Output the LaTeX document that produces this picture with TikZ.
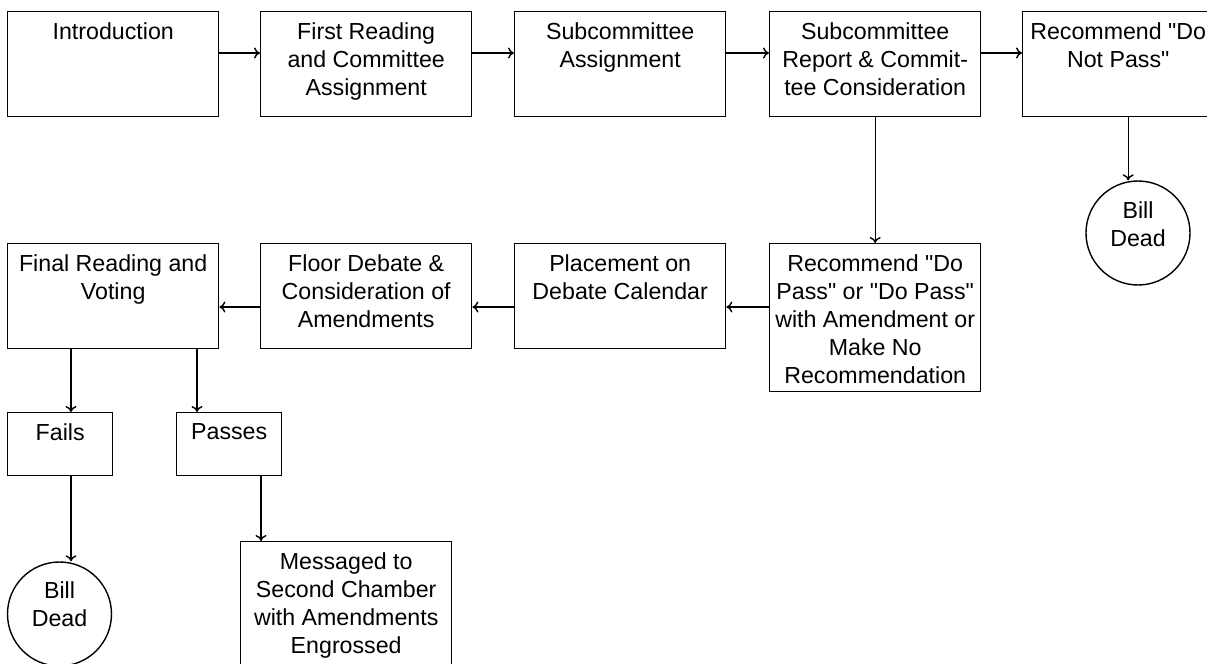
\documentclass[tikz,border=0pt]{standalone}
\usepackage{fontspec}
\setmainfont{Liberation Sans}[Ligatures=TeXOff]
\usetikzlibrary{arrows.meta}

\begin{document}
\begin{tikzpicture}
            [
                x = 0.5pt, y = -0.5pt,
                every node/.style = {font=\fontsize{11.6}{14}\selectfont},
                every label/.style = {anchor=north, align=center,
                inner xsep=0pt, inner ysep=5.5pt},
                stage/.style = {shape=rectangle, draw, line width=0.7pt,
                anchor=north west, inner sep=0pt,
                minimum width=105.5pt, minimum height=52.5pt},
                tall/.style = {stage, minimum height=74pt},
                small/.style = {stage, minimum width=52.5pt, minimum height=31.5pt},
                dead/.style = {shape=circle, draw, line width=0.7pt,
                inner sep=0pt, minimum size=52pt},
                arr/.style = {line width=0.7pt, -{To[length=3pt,width=5.5pt]}}
            ]
            \useasboundingbox (0,0) rectangle (1207,664);
            \coordinate (row1) at (0,53);
            \coordinate (row2) at (0,307);
            \coordinate (col1) at (71,0);
            \coordinate (col2) at (197,0);
            \coordinate (col3) at (261,0);

            \node[stage, label={north:Introduction}] (intro) at (7,11) {};
            \node[stage, label={north:First Reading\\and Committee\\Assignment}]
                (first) at (260,11) {};
            \node[stage, label={north:Subcommittee\\Assignment}]
                (subassign) at (514,11) {};
            \node[stage, label={north:Subcommittee\\Report \& Commit-\\tee Consideration}]
                (report) at (769,11) {};
            \node[stage, label={[xshift=-5pt]north:Recommend "Do\\Not Pass"}]
                (donotpass) at (1022,11) {};
            \node[dead, label={[inner ysep=10.3pt]north:Bill\\Dead}]
                (dead1) at (1138,233) {};

            \node[stage, label={north:Final Reading and\\Voting}] (final) at (7,243) {};
            \node[stage, label={north:Floor Debate \&\\Consideration of\\Amendments}]
                (floor) at (260,243) {};
            \node[stage, label={north:Placement on\\Debate Calendar}]
                (place) at (514,243) {};
            \node[tall, label={north:Recommend "Do\\Pass" or "Do Pass"\\with Amendment or\\Make No\\Recommendation}]
                (dopass) at (769,243) {};

            \node[small, label={north:Fails}] (fails) at (7,412) {};
            \node[small, label={north:Passes}] (passes) at (176,412) {};
            \node[dead, label={[inner ysep=10pt]north:Bill\\Dead}]
                (dead2) at (59.5,614) {};
            \node[stage, minimum height=63pt,
                label={north:Messaged to\\Second Chamber\\with Amendments\\Engrossed}]
                (message) at (240,541) {};

            \draw[arr] (intro.east |- row1) -- (first.west |- row1);
            \draw[arr] (first.east |- row1) -- (subassign.west |- row1);
            \draw[arr] (subassign.east |- row1) -- (report.west |- row1);
            \draw[arr] (report.east |- row1) -- (donotpass.west |- row1);
            \draw[arr] (donotpass.south) -- (donotpass.south |- dead1.north);
            \draw[arr] (report.south) -- (dopass.north);

            \draw[arr] (dopass.west |- row2) -- (place.east |- row2);
            \draw[arr] (place.west |- row2) -- (floor.east |- row2);
            \draw[arr] (floor.west |- row2) -- (final.east |- row2);

            \draw[arr] (final.south -| col1) -- (fails.north -| col1);
            \draw[arr] (final.south -| col2) -- (passes.north -| col2);
            \draw[arr] (fails.south -| col1) -- (dead2.north -| col1);
            \draw[arr] (passes.south -| col3) -- (message.north -| col3);
        \end{tikzpicture}
\end{document}
